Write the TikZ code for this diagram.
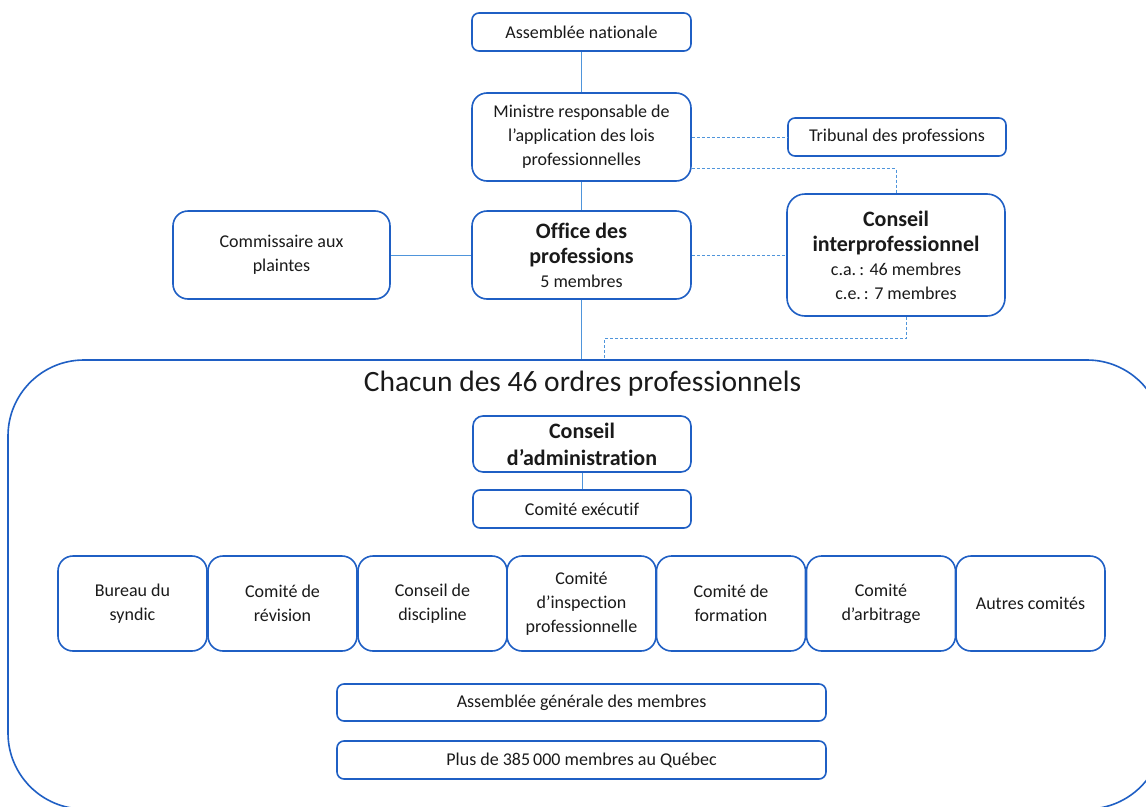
\documentclass[tikz,border=0pt]{standalone}
\usepackage{fontspec}
\setmainfont{Carlito}[Ligatures={NoCommon}]
\usetikzlibrary{calc}
\definecolor{boxblue}{HTML}{1F5FC4}
\definecolor{linkblue}{HTML}{4F95DB}
\definecolor{txt}{HTML}{1A1A1A}
\newcommand{\bigb}[1]{{\fontsize{22}{27}\selectfont\bfseries #1}}
\begin{document}
\begin{tikzpicture}[x=1pt,y=-1pt,
  box/.style={draw=boxblue, line width=1.6pt, rounded corners=#1, align=center, inner sep=2pt,
    font=\fontsize{18}{24}\selectfont, text=txt, fill=white},
  box/.default=15pt,
  bold/.style={font=\fontsize{22}{27}\selectfont\bfseries},
  link/.style={draw=linkblue, line width=1pt},
  dlink/.style={draw=linkblue, line width=1pt, dash pattern=on 3pt off 2pt},
  rowbox/.style={box=15pt, minimum width=149pt, minimum height=95pt}
]
\useasboundingbox (0,0) rectangle (1146,806);
\begin{scope}
\clip (0,0) rectangle (1146,806);
\node[draw=boxblue, line width=1.6pt, rounded corners=76pt, minimum width=1155pt, minimum height=449pt, inner sep=0pt] (big) at (585.5,584.5) {};
\end{scope}
\node[font=\fontsize{29.5}{34}\selectfont, text=txt] (title) at (582.5,384) {Chacun des 46 ordres professionnels};

% top part
\node[box=7pt, minimum width=219pt, minimum height=38pt] (an) at (581.5,32) {Assemblée nationale};
\node[box=15pt, minimum width=219pt, minimum height=88pt] (min) at (581.5,137) {Ministre responsable de\\l’application des lois\\professionnelles};
\node[box=7pt, minimum width=218pt, minimum height=38pt] (trib) at (897,137) {Tribunal des professions};
\node[box=15pt, minimum width=217pt, minimum height=88pt] (comm) at (281.5,255) {Commissaire aux\\plaintes};
\node[box=15pt, minimum width=219pt, minimum height=88pt] (off) at (581.5,255) {\bigb{Office des}\\[1pt]\bigb{professions}\\5 membres};
\node[box=18pt, minimum width=218pt, minimum height=122pt] (ci) at (896,255) {\bigb{Conseil}\\[1pt]\bigb{interprofessionnel}\\c.a.\,: 46 membres\\c.e.\,: 7 membres};

% inside
\node[box=10pt, bold, minimum width=218pt, minimum height=56pt] (ca) at (582,444) {Conseil\\d’administration};
\node[box=7pt, minimum width=218pt, minimum height=38pt] (ce) at (582,509) {Comité exécutif};

\node[rowbox] (r1) at (132.5,603.5) {Bureau du\\syndic};
\node[rowbox] (r2) at (282.5,603.5) {Comité de\\révision};
\node[rowbox] (r3) at (432.5,603.5) {Conseil de\\discipline};
\node[rowbox] (r4) at (581.5,603.5) {Comité\\d’inspection\\professionnelle};
\node[rowbox] (r5) at (731,603.5) {Comité de\\formation};
\node[rowbox] (r6) at (881,603.5) {Comité\\d’arbitrage};
\node[rowbox] (r7) at (1030.5,603.5) {Autres comités};

\node[box=7pt, minimum width=489pt, minimum height=37pt] (ag) at (581.5,702.5) {Assemblée générale des membres};
\node[box=7pt, minimum width=489pt, minimum height=38pt] (plus) at (581.5,760) {Plus de 385\,000 membres au Québec};

% connectors
\draw[link] (an.south) -- (min.north);
\draw[link] (min.south) -- (off.north);
\draw[link] (comm.east) -- (off.west);
\draw[link] (off.south) -- (off.south |- big.north);
\draw[link] (ca.south) -- (ce.north);
\draw[dlink] (min.east) -- (trib.west);
\draw[dlink] ($(min.south east)+(0,-13)$) -| (ci.north);
\draw[dlink] (off.east) -- (ci.west);
\draw[dlink] ($(ci.south)+(10,0)$) -- ++(0,22) -| ($(big.north)+(19,0)$);
\end{tikzpicture}
\end{document}
